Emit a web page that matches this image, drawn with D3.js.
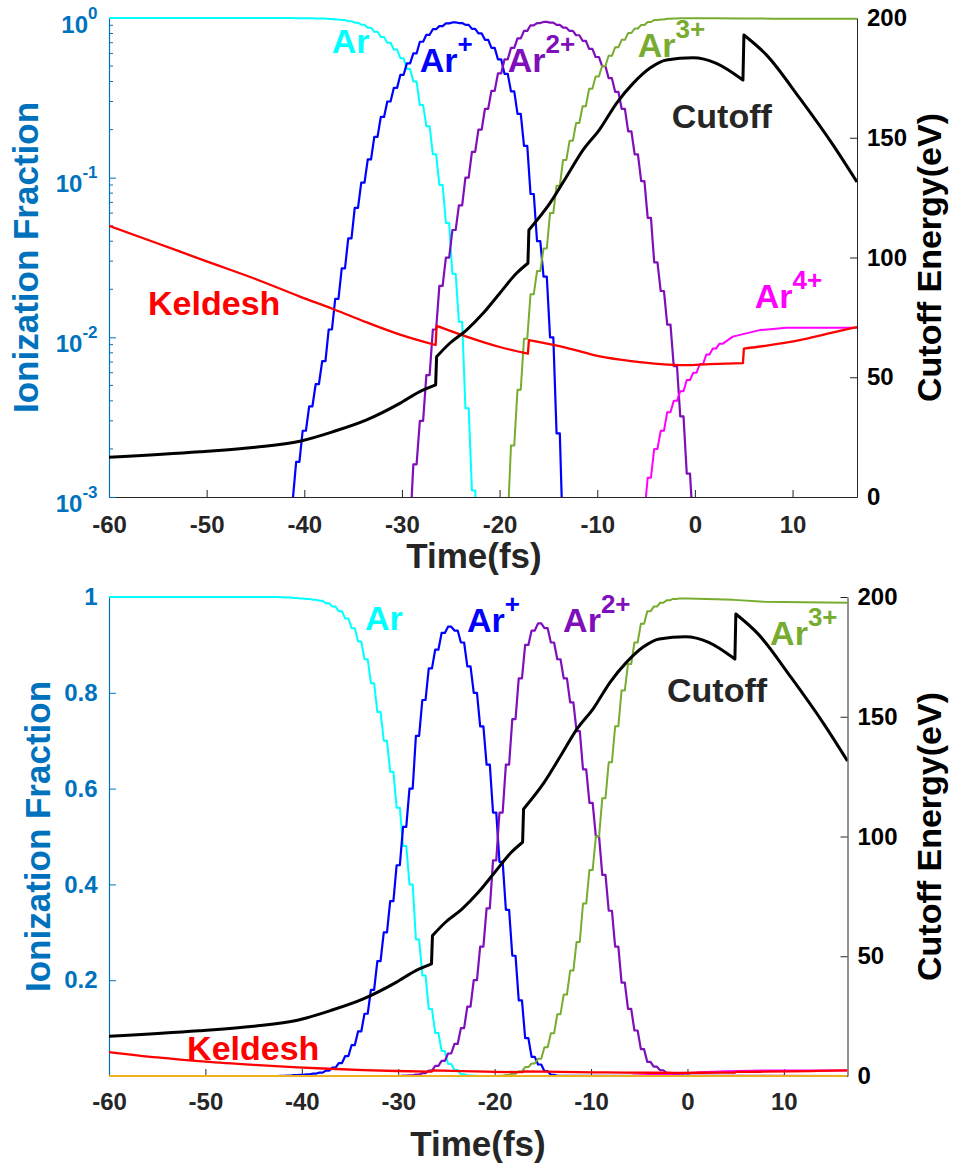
<!DOCTYPE html>
<html><head><meta charset="utf-8">
<script src="https://cdn.jsdelivr.net/npm/d3@7"></script>
<style>
body{margin:0;background:#fff}
svg{display:block}
text{font-family:"Liberation Sans",Arial,Helvetica,sans-serif;font-weight:bold}
</style>
</head><body>
<svg id="chart" width="954" height="1168"></svg>
<script>
// ---------------- data ----------------
const timeDomain = [-60, 16.6];
const timeTicks = [-60, -50, -40, -30, -20, -10, 0, 10];
const logTicks = [1e-3, 1e-2, 1e-1, 1];
const linTicks = [0.2, 0.4, 0.6, 0.8, 1];
const energyTicks = [0, 50, 100, 150, 200];

// ion fractions: one value per half optical cycle (staircase), starting at stepStart
const halfCycle = 2 / 3; // fs

const headAr = 1;
const stepStartAr = -42.333;
const stepsAr = [0.9993,0.999,0.998,0.997,0.996,0.994,0.992,0.987,0.98,0.97,0.955,0.935,0.907,0.87,0.82,0.76,0.70,0.635,0.56,0.48,0.40,0.285,0.21,0.14,0.09,0.052,0.025,0.0125,0.0036,0.0011,0.0003,0.0001];
const tailTimeAr = [16.6];
const tailAr = [0.00001];

const headAr1 = 0.00001;
const stepStartAr1 = -42.333;
const stepsAr1 = [0.00056,0.00098,0.00166,0.0026,0.0037,0.0051,0.0071,0.0112,0.0174,0.027,0.0417,0.0646,0.093,0.13,0.18,0.24,0.30,0.365,0.44,0.52,0.60,0.71,0.785,0.851,0.89,0.925,0.938,0.93,0.905,0.855,0.80,0.73,0.65,0.55,0.447,0.347,0.251,0.158,0.079,0.040,0.024,0.010,0.0025,0.0005,0.0001];
const tailTimeAr1 = [16.6];
const tailAr1 = [0.00001];

const headAr2 = 0.00001;
const stepStartAr2 = -29.667;
const stepsAr2 = [0.00063,0.0016,0.0030,0.0058,0.0112,0.021,0.0316,0.047,0.067,0.10,0.145,0.20,0.27,0.35,0.45,0.55,0.65,0.745,0.83,0.90,0.93,0.945,0.935,0.905,0.87,0.83,0.78,0.72,0.64,0.57,0.50,0.42,0.345,0.27,0.195,0.14,0.095,0.056,0.0295,0.0195,0.012,0.0066,0.0032,0.0014,0.00063,0.0002];
const tailTimeAr2 = [16.6];
const tailAr2 = [0.00001];

const headAr3 = 0.00001;
const stepStartAr3 = -19.667;
const stepsAr3 = [0.0007,0.0021,0.0047,0.0098,0.0186,0.026,0.036,0.060,0.089,0.129,0.17,0.22,0.28,0.36,0.43,0.50,0.58,0.655,0.73,0.805,0.86,0.905,0.944,0.97,0.98,0.988,0.993,0.996,0.997];
const tailTimeAr3 = [0, 2, 4.8, 8, 12, 16.6];
const tailAr3 = [0.997, 0.996, 0.994, 0.99, 0.989, 0.988];

const headAr4 = 0.00001;
const stepStartAr4 = -5.667;
const stepsAr4 = [0.0008,0.00132,0.0020,0.0026,0.0034,0.0040,0.0046,0.0054,0.0060,0.0068,0.0078,0.0085,0.0091];
const tailTimeAr4 = [3.88, 6.63, 9.36, 16.6];
const tailAr4 = [0.0101, 0.0111, 0.0115, 0.0115];

const timeAr5 = [-60, 16.6];
const fracAr5 = [0, 0];

const timeKeldesh = [-60,-55,-50,-45,-40.45,-37,-33.6,-30.2,-26.55,-26.45,-23.39,-20,-17.1,-17.0,-13.15,-9.75,-6.5,-3.5,-1.0,1.5,4.92,5.02,7.5,10.73,13.5,16.6];
const keldesh = [0.050,0.0387,0.0299,0.0232,0.018,0.0150,0.0124,0.0104,0.00895,0.0118,0.0101,0.0087,0.0079,0.0096,0.0086,0.0076,0.0071,0.0068,0.0067,0.0068,0.0069,0.0085,0.0089,0.0096,0.0105,0.0116];

const timeCutoff = [-60,-50.7,-45,-40.45,-37.04,-33.62,-30.22,-28.17,-26.55,-26.45,-25.1,-23.39,-21.69,-19.98,-18.27,-17.1,-17.0,-14.86,-13.15,-11.45,-9.75,-8.03,-6.33,-4.63,-2.92,-0.2,2.2,4.92,5.02,7.32,10.73,14.14,16.6];
const cutoffEnergy = [16.6,18.9,20.8,23.3,27.3,32.2,39.1,44.0,46.8,58.6,64.2,69.7,76.7,85.1,93.4,97.6,111.5,122.6,133.7,144.9,153.5,164.4,172.7,179.0,182.5,183.4,181.1,174.1,192.9,184.6,166.5,147.0,131.5];

// ---------------- build point lists ----------------
const riseFrac = 0.5; // share of each half cycle taken by the ionization burst
function stairs(head, start, steps, tailT, tailV) {
  const q = riseFrac * halfCycle / 2;
  const pts = [[timeDomain[0], head]];
  let prev = head;
  steps.forEach((v, i) => {
    const a = start + i * halfCycle;
    pts.push([a - q, prev], [a + q, v]);
    prev = v;
  });
  pts.push([start + steps.length * halfCycle - q, prev]);
  tailT.forEach((t, i) => pts.push([t, tailV[i]]));
  return pts;
}
const zip = (ts, vs) => ts.map((t, i) => [t, vs[i]]);

// smooth curve that keeps sudden jumps (two samples closer than jumpGap) vertical
const jumpGap = 0.25;
function smoothPath(pts, xf, yf) {
  const segs = [[pts[0]]];
  for (let i = 1; i < pts.length; i++) {
    if (pts[i][0] - pts[i - 1][0] < jumpGap) segs.push([pts[i]]);
    else segs[segs.length - 1].push(pts[i]);
  }
  const gen = d3.line().curve(d3.curveMonotoneX).x(p => xf(p[0])).y(p => yf(p[1]));
  return segs.map((s, i) => {
    const d = s.length > 1 ? gen(s) : `M${xf(s[0][0])},${yf(s[0][1])}`;
    return i === 0 ? d : "L" + d.slice(1);
  }).join("");
}

const BLUE = "#0072BD", DARK = "#262626";
const C_AR = "#00FFFF", C_AR1 = "#0000FF", C_AR2 = "#7E0FBA", C_AR3 = "#77AC30", C_AR4 = "#FF00FF", C_AR5 = "#EDB120", C_K = "#FF0000";

const seriesDefs = [
  {pts: stairs(headAr, stepStartAr, stepsAr, tailTimeAr, tailAr), color: C_AR, w: 2},
  {pts: stairs(headAr1, stepStartAr1, stepsAr1, tailTimeAr1, tailAr1), color: C_AR1, w: 2.2},
  {pts: stairs(headAr2, stepStartAr2, stepsAr2, tailTimeAr2, tailAr2), color: C_AR2, w: 2.2},
  {pts: stairs(headAr3, stepStartAr3, stepsAr3, tailTimeAr3, tailAr3), color: C_AR3, w: 2},
  {pts: stairs(headAr4, stepStartAr4, stepsAr4, tailTimeAr4, tailAr4), color: C_AR4, w: 2},
  {pts: zip(timeAr5, fracAr5), color: C_AR5, w: 2},
  {pts: zip(timeKeldesh, keldesh), color: C_K, w: 2.3, smooth: true}
];

const svg = d3.select("#chart");

function addLabel(g, x, y, main, sup, color) {
  const t = g.append("text").attr("x", x).attr("y", y).attr("fill", color).attr("font-size", 34);
  t.append("tspan").text(main);
  if (sup) t.append("tspan").attr("dy", -19).attr("font-size", 26).text(sup);
}

function panel(o) {
  const g = svg.append("g");
  const x = d3.scaleLinear().domain(timeDomain).range([o.left, o.right]);
  const y = o.log ? d3.scaleLog().domain([1e-3, 1]).range([o.bottom, o.top])
                  : d3.scaleLinear().domain([0, 1]).range([o.bottom, o.top]);
  const yR = d3.scaleLinear().domain([0, 200]).range([o.bottom, o.top]);

  const cid = "clip_" + o.name;
  svg.append("clipPath").attr("id", cid).append("rect")
    .attr("x", o.left).attr("y", o.top - 3)
    .attr("width", o.right - o.left).attr("height", o.bottom - o.top + (o.log ? 3 : 5));

  // axes
  const xAxis = g.append("g").attr("transform", `translate(0,${o.bottom})`)
    .call(d3.axisBottom(x).tickValues(timeTicks).tickSizeInner(-7).tickSizeOuter(0).tickPadding(o.xPad).tickFormat(d => String(d)));
  xAxis.select(".domain").attr("stroke", DARK).attr("stroke-width", 1);
  xAxis.selectAll(".tick line").attr("stroke", DARK);
  xAxis.selectAll(".tick text").attr("fill", DARK).attr("font-size", 24).attr("font-family", null);

  let yAxisGen = d3.axisLeft(y).tickSizeInner(-7).tickSizeOuter(0).tickPadding(11.5);
  yAxisGen = o.log ? yAxisGen.tickValues(logTicks).tickFormat(() => "")
                   : yAxisGen.tickValues(linTicks).tickFormat(d => d === 1 ? "1" : d3.format(".1f")(d));
  const yAxis = g.append("g").attr("transform", `translate(${o.left},0)`).call(yAxisGen);
  yAxis.select(".domain").attr("stroke", BLUE).attr("stroke-width", 1.2);
  yAxis.selectAll(".tick line").attr("stroke", BLUE);
  yAxis.selectAll(".tick text").attr("fill", BLUE).attr("font-size", 24).attr("font-family", null);
  if (o.log) {
    yAxis.selectAll(".tick text").each(function(d) {
      const e = Math.round(Math.log10(d));
      const t = d3.select(this).attr("dy", 14);
      t.append("tspan").text("10");
      t.append("tspan").attr("dy", -14).attr("font-size", 17).text(String(e));
    });
    const minor = [];
    [1e-3, 1e-2, 1e-1].forEach(b => { for (let k = 2; k <= 9; k++) minor.push(b * k); });
    yAxis.selectAll(".minor").data(minor).join("line").attr("class", "minor")
      .attr("x1", 0).attr("x2", 4).attr("y1", d => y(d)).attr("y2", d => y(d))
      .attr("stroke", BLUE).attr("stroke-width", 1);
  }

  const rAxis = g.append("g").attr("transform", `translate(${o.right},0)`)
    .call(d3.axisRight(yR).tickValues(energyTicks).tickSizeInner(-7).tickSizeOuter(0).tickPadding(10));
  rAxis.select(".domain").attr("stroke", DARK).attr("stroke-width", 1);
  rAxis.selectAll(".tick line").attr("stroke", DARK);
  rAxis.selectAll(".tick text").attr("fill", "#000").attr("font-size", 24).attr("font-family", null);

  // lines
  const lines = g.append("g").attr("clip-path", `url(#${cid})`).attr("fill", "none")
    .attr("stroke-linejoin", "round");
  seriesDefs.forEach(s => {
    let pts = s.pts;
    if (o.log) pts = pts.filter(p => p[1] > 0);
    if (pts.length < 2) return;
    const d = s.smooth ? smoothPath(pts, x, y) : d3.line().x(p => x(p[0])).y(p => y(p[1]))(pts);
    lines.append("path").attr("d", d).attr("stroke", s.color).attr("stroke-width", s.w);
  });
  lines.append("path").attr("d", smoothPath(zip(timeCutoff, cutoffEnergy), x, yR))
    .attr("stroke", "#000").attr("stroke-width", 3);

  // axis titles
  g.append("text").attr("x", o.xTitleX).attr("y", o.xTitleY).attr("text-anchor", "middle")
    .attr("fill", DARK).attr("font-size", 35).text("Time(fs)");
  g.append("text").attr("transform", `translate(${o.yTitleX},${(o.top + o.bottom) / 2}) rotate(-90)`)
    .attr("text-anchor", "middle").attr("fill", BLUE).attr("font-size", 35).text("Ionization Fraction");
  g.append("text").attr("transform", `translate(941,${(o.top + o.bottom) / 2}) rotate(-90)`)
    .attr("text-anchor", "middle").attr("fill", "#000").attr("font-size", 34).text("Cutoff Energy(eV)");

  // in-plot labels (anchored in time / energy units)
  o.labels.forEach(l => addLabel(g, x(l.t), yR(l.e), l.main, l.sup, l.color));
}

panel({name:"top", log:true, left:109, right:857, top:18, bottom:497, xPad:19,
  xTitleX:474, xTitleY:568, yTitleX:38,
  labels:[
    {t:-37.2, e:185.4, main:"Ar", sup:"", color:C_AR},
    {t:-28.17, e:177.5, main:"Ar", sup:"+", color:C_AR1},
    {t:-19.16, e:177.5, main:"Ar", sup:"2+", color:C_AR2},
    {t:-5.85, e:183.7, main:"Ar", sup:"3+", color:C_AR3},
    {t:-2.37, e:154.1, main:"Cutoff", sup:"", color:DARK},
    {t:-56.0, e:76.0, main:"Keldesh", sup:"", color:C_K},
    {t:6.12, e:78.9, main:"Ar", sup:"4+", color:C_AR4}
  ]});
panel({name:"bot", log:false, left:109, right:847.5, top:597, bottom:1076, xPad:17,
  xTitleX:478, xTitleY:1156, yTitleX:50,
  labels:[
    {t:-33.44, e:186.2, main:"Ar", sup:"", color:C_AR},
    {t:-22.86, e:185.4, main:"Ar", sup:"+", color:C_AR1},
    {t:-12.9, e:185.4, main:"Ar", sup:"2+", color:C_AR2},
    {t:8.57, e:180.0, main:"Ar", sup:"3+", color:C_AR3},
    {t:-2.12, e:156.2, main:"Cutoff", sup:"", color:DARK},
    {t:-51.9, e:6.7, main:"Keldesh", sup:"", color:C_K}
  ]});
</script>
</body></html>
